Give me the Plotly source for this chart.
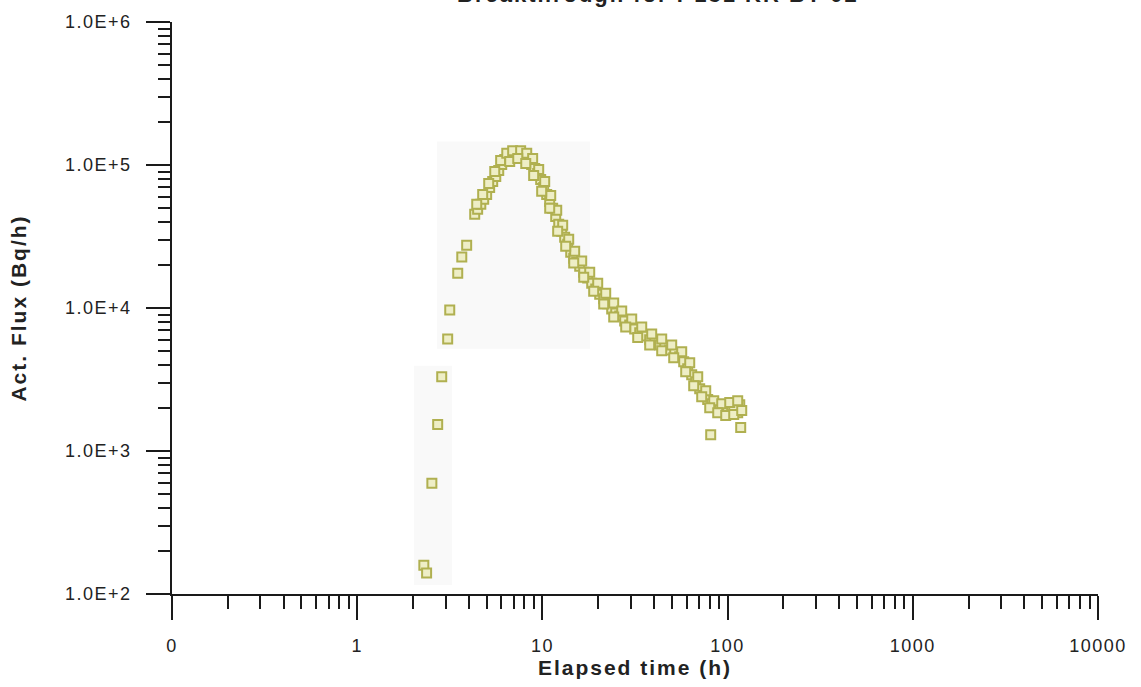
import plotly.graph_objects as go

# Elapsed time (h) and activity flux (Bq/h) of the breakthrough curve
elapsed_h = [
    # first arrivals
    2.29, 2.37, 2.53, 2.72, 2.86, 3.08, 3.16, 3.49, 3.67, 3.90,
    # main body of the curve
    4.31, 4.47, 4.65, 4.82, 5.00, 5.19, 5.39, 5.60, 5.81, 6.03,
    6.26, 6.49, 6.74, 7.00, 7.26, 7.54, 7.83, 8.13, 8.43, 8.75,
    9.09, 9.43, 9.79, 10.16, 10.55, 10.95, 11.36, 11.80, 12.25, 12.71,
    13.19, 13.70, 14.22, 14.76, 15.32, 15.90, 16.71, 17.56, 18.46, 19.40,
    20.39, 21.43, 22.52, 23.67, 24.88, 26.15, 27.82, 29.61, 31.51, 33.53,
    35.68, 37.96, 40.40, 42.99, 45.75, 48.68, 51.81, 55.13, 57.94, 60.89,
    64.00, 67.26, 70.69, 74.30, 78.08, 82.07, 86.25, 90.64, 95.28, 100.1,
    105.2, 110.6, 116.3, 113.4, 107.9, 81.05, 117.7,
    # repeat samples, upper side of the band
    4.42, 4.76, 5.13, 5.53, 5.95, 6.42, 6.91, 7.63, 8.23, 8.86,
    9.55, 10.29, 11.09, 11.95, 12.87, 13.87, 14.94, 16.30, 18.01, 19.89,
    21.97, 24.27, 26.81, 30.36, 34.38, 38.92, 44.08, 49.91, 56.52, 62.45,
    68.98, 76.19, 84.16, 92.96, 102.7, 113.4,
    # repeat samples, lower side of the band
    6.66, 7.36, 8.13, 8.97, 9.91, 10.95, 12.09, 13.36, 14.76, 16.71,
    18.92, 21.43, 24.27, 28.17, 32.71, 37.96, 44.08, 51.17, 59.39, 65.61,
    72.48, 80.08, 88.45, 97.70, 107.9, 119.2,
]
flux_bq_h = [
    159, 140, 594, 1530, 3310, 6080, 9680, 17500, 22700, 27500,
    45200, 49000, 53100, 57500, 62200, 69700, 76800, 83200, 91600, 100700,
    109200, 114600, 120300, 122300, 124200, 122300, 118400, 112800, 107400, 100700,
    94600, 87300, 79300, 69700, 62200, 55600, 49800, 43700, 38500, 34400,
    31300, 27900, 24500, 22300, 20900, 19600, 17800, 16200, 14900, 13600,
    12500, 11600, 10700, 9840, 9230, 8790, 8110, 7620, 7140, 6700,
    6380, 5990, 5800, 5520, 5350, 5090, 4850, 4560, 4210, 3760,
    3410, 3050, 2730, 2440, 2290, 2140, 2040, 1980, 1910, 1910,
    1980, 2040, 2110, 1850, 1950, 1300, 1460,
    53050, 62300, 74300, 90100, 107500, 121000, 126000, 126000, 121000, 111000,
    93000, 76700, 61300, 48200, 37900, 30300, 24900, 21300, 17800, 14900,
    12700, 10830, 9530, 8380, 7370, 6590, 6080, 5520, 4940, 4140,
    3300, 2640, 2250, 2140, 2180, 2250,
    105800, 111000, 102400, 84500, 65400, 49800, 34400, 27000, 20600, 16400,
    13100, 10660, 8650, 7370, 6230, 5520, 5020, 4480, 3580, 2860,
    2400, 2010, 1850, 1770, 1800, 1920,
]

x_tick_vals = [0.1, 1, 10, 100, 1000, 10000]
x_tick_text = ["0", "1", "10", "100", "1000", "10000"]
y_tick_vals = [1e2, 1e3, 1e4, 1e5, 1e6]
y_tick_text = ["1.0E+2", "1.0E+3", "1.0E+4", "1.0E+5", "1.0E+6"]

title_text = "Breakthrough for I-131 KR BT-02"

FONT = "Liberation Sans, Arial, sans-serif"
INK = "#1a1a1a"


def minor_log(lo_exp, hi_exp):
    return [m * 10 ** e for e in range(lo_exp, hi_exp) for m in range(2, 10)]


fig = go.Figure()

fig.add_trace(go.Scatter(
    x=elapsed_h,
    y=flux_bq_h,
    mode="markers",
    marker=dict(symbol="square", size=9, color="#eeeec6",
                line=dict(width=2, color="#b0b050")),
    showlegend=False,
    hoverinfo="x+y",
))

axis_common = dict(
    type="log",
    showgrid=False,
    zeroline=False,
    showline=True,
    linecolor=INK,
    linewidth=1.6,
    ticks="outside",
    ticklen=24,
    tickwidth=1.6,
    tickcolor=INK,
    tickfont=dict(family=FONT, size=18, color="#222"),
    mirror=False,
)

fig.update_xaxes(
    **axis_common,
    range=[-1, 4],
    tickmode="array",
    tickvals=x_tick_vals,
    ticktext=x_tick_text,
    ticklabelstandoff=11,
    minor=dict(tickmode="array", tickvals=minor_log(-1, 4), ticks="outside",
               ticklen=13, tickwidth=1.6, tickcolor=INK, showgrid=False),
    title=dict(text="<b>Elapsed time (h)</b>",
               font=dict(family=FONT, size=21, color="#222"), standoff=4),
)

fig.update_yaxes(
    **axis_common,
    range=[2, 6],
    tickmode="array",
    tickvals=y_tick_vals,
    ticktext=y_tick_text,
    ticklabelstandoff=11,
    minor=dict(tickmode="array", tickvals=minor_log(2, 6), ticks="outside",
               ticklen=12, tickwidth=1.6, tickcolor=INK, showgrid=False),
    title=dict(text="<b>Act. Flux (Bq/h)</b>",
               font=dict(family=FONT, size=21, color="#222"), standoff=42),
)

# faint paper-tone patches behind the data
fig.add_shape(type="rect", xref="paper", yref="paper", layer="below",
              x0=(414 - 172) / 926, x1=(452 - 172) / 926,
              y0=(594 - 585) / 574, y1=(594 - 365) / 574,
              fillcolor="#f9f9f9", line=dict(width=0))
fig.add_shape(type="rect", xref="paper", yref="paper", layer="below",
              x0=(437 - 172) / 926, x1=(590 - 172) / 926,
              y0=(594 - 348) / 574, y1=(594 - 140) / 574,
              fillcolor="#f9f9f9", line=dict(width=0))

fig.add_annotation(
    text="<b>" + title_text + "</b>",
    xref="paper", yref="paper", x=0.525, y=1, xanchor="center", yanchor="bottom",
    yshift=13, showarrow=False,
    font=dict(family=FONT, size=22, color="#222"),
)

fig.update_layout(
    width=1141,
    height=687,
    margin=dict(l=172, r=43, t=20, b=93),
    paper_bgcolor="white",
    plot_bgcolor="white",
)

# the typeset labels are slightly letter-spaced
spacing_js = """
var gd = document.getElementsByClassName('plotly-graph-div')[0];
gd.querySelectorAll('.xtick text, .ytick text').forEach(function (t) { t.style.letterSpacing = '1.5px'; });
gd.querySelectorAll('.xtitle, .ytitle, .annotation-text').forEach(function (t) { t.style.letterSpacing = '2px'; });
"""

fig.write_html("out.html", post_script=spacing_js)
